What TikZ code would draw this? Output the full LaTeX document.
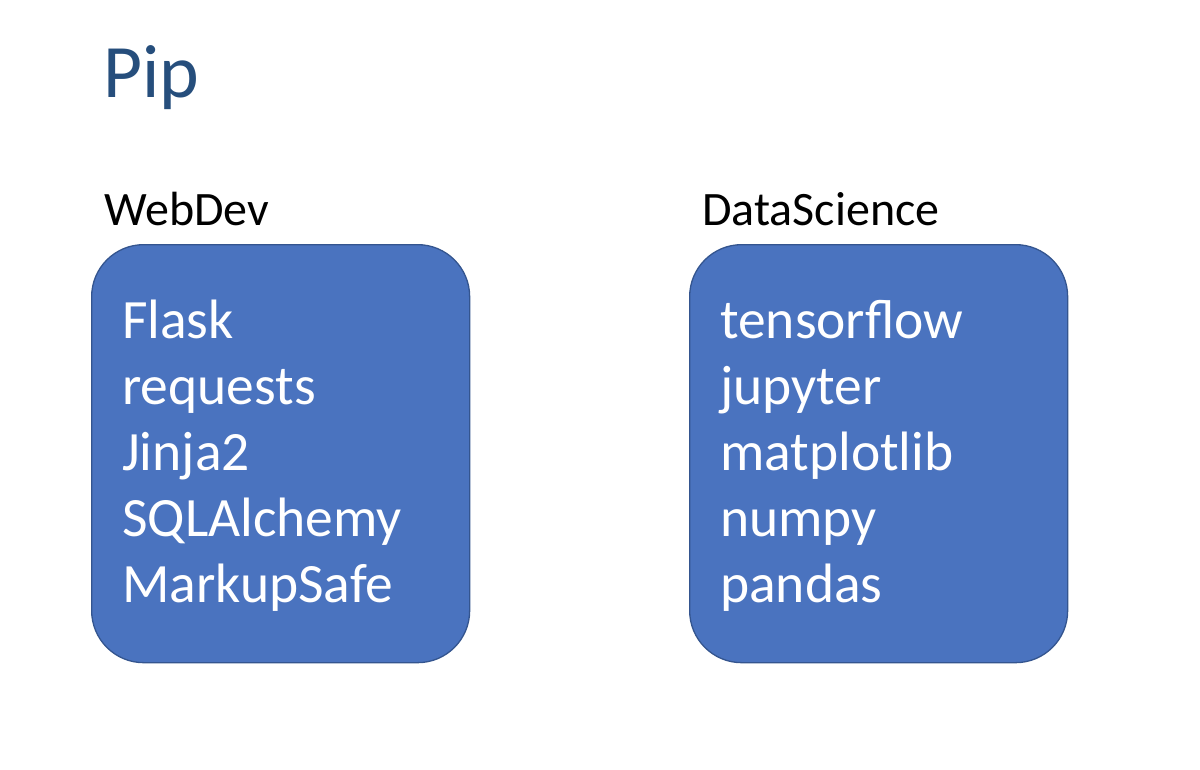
\documentclass[tikz,border=0pt]{standalone}
\usepackage{fontspec}
\setmainfont{Carlito}
\definecolor{boxfill}{HTML}{4A73BF}
\definecolor{boxline}{HTML}{34558F}
\definecolor{titleblue}{HTML}{264E7C}
\begin{document}
\begin{tikzpicture}[x=1pt,y=-1pt,
  pkgbox/.style={draw=boxline,fill=boxfill,line width=1.3pt,rounded corners=52pt,minimum width=378pt,minimum height=418pt,inner sep=0pt,anchor=north west},
  pkg/.style={anchor=base west,inner sep=0pt,text=white,font=\fontsize{55.5}{66}\selectfont},
  grp/.style={anchor=base west,inner sep=0pt,text=black,font=\fontsize{48}{56}\selectfont},
  ttl/.style={anchor=base west,inner sep=0pt,text=titleblue,font=\fontsize{75.5}{88}\selectfont}]
\useasboundingbox (0,0) rectangle (1200,769);
\node[ttl] (title) at (103,97) {Pip};
\node[grp] (web) at (104,225) {WebDev};
\node[grp] (ds) at (702,225) {DataScience};
\node[pkgbox] (wbox) at (91,244) {};
\node[pkgbox] (dbox) at (689,244) {};
\node[pkg] (w1) at (122,338) {Flask};
\node[pkg] (w2) at (122,404) {requests};
\node[pkg] (w3) at (122,470) {Jinja2};
\node[pkg] (w4) at (122,536) {SQLAlchemy};
\node[pkg] (w5) at (122,602) {MarkupSafe};
\node[pkg] (d1) at (720,338) {tensorflow};
\node[pkg] (d2) at (720,404) {jupyter};
\node[pkg] (d3) at (720,470) {matplotlib};
\node[pkg] (d4) at (720,536) {numpy};
\node[pkg] (d5) at (720,602) {pandas};
\end{tikzpicture}
\end{document}
